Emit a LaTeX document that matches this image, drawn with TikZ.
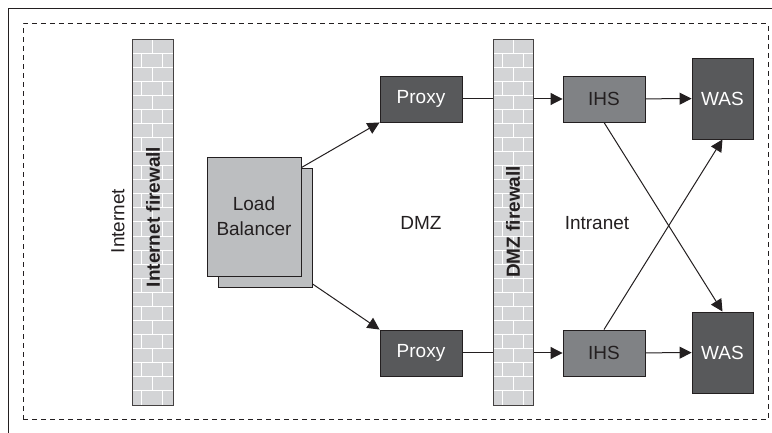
\documentclass[tikz,border=0pt]{standalone}
\usepackage{fontspec}
\setmainfont{Liberation Sans}
\usetikzlibrary{arrows.meta}
\definecolor{boxDark}{HTML}{58595B}
\definecolor{boxMid}{HTML}{808285}
\definecolor{boxLight}{HTML}{BCBEC0}
\definecolor{wallGray}{HTML}{D3D4D6}
\definecolor{lineDark}{HTML}{231F20}
\pgfdeclarelayer{bg}
\pgfsetlayers{bg,main}

\newcommand{\brickwall}[1]{%
  \foreach \r in {1,...,25}
    \draw[brick] ([yshift=\r*14.077pt]#1.south west) -- ([yshift=\r*14.077pt]#1.south east);
  \foreach \r in {0,2,...,24}
    \draw[brick] ([xshift=9pt,yshift=\r*14.077pt]#1.south west) -- ++(0,14.077)
                 ([xshift=30pt,yshift=\r*14.077pt]#1.south west) -- ++(0,14.077);
  \foreach \r in {1,3,...,25}
    \draw[brick] ([xshift=20pt,yshift=\r*14.077pt]#1.south west) -- ++(0,14.077);
}

\begin{document}
\begin{tikzpicture}[
  x=1pt,y=1pt,
  font=\fontsize{19}{25}\selectfont,
  box/.style={draw=lineDark,line width=0.9pt,inner sep=0pt},
  darkbox/.style={box,fill=boxDark,text=white,minimum width=82,minimum height=46},
  ihsbox/.style={box,fill=boxMid,text=lineDark,minimum width=82,minimum height=46},
  wasbox/.style={box,fill=boxDark,text=white,minimum width=61,minimum height=81},
  lbbox/.style={box,fill=boxLight,text=lineDark,align=center,minimum width=94,minimum height=119},
  wall/.style={fill=wallGray,inner sep=0pt,outer sep=0pt,minimum height=366},
  wallEdge/.style={draw=lineDark!85,line width=0.9pt},
  walltext/.style={rotate=90,font=\fontsize{19}{22}\selectfont\bfseries,text=lineDark},
  brick/.style={draw=white,line width=1pt},
  flow/.style={draw=lineDark,line width=1pt,-{Triangle[length=12pt,width=12pt]}}
]
  \useasboundingbox (0,0) rectangle (772,433);
  \draw[lineDark,line width=1pt] (8,0) -- (8,424) -- (772,424);
  \draw[lineDark,line width=1pt,dash pattern=on 5pt off 4pt] (23,13) rectangle (768,409);

  \node[lbbox] (lbback) at (265.5,205.5) {};
  \node[lbbox] (lb) at (254,216.5) {Load\\Balancer};

  \node[darkbox] (proxy1) at (421,334) {Proxy};
  \node[darkbox] (proxy2) at (421,80) {Proxy};
  \node[ihsbox] (ihs1) at (604,334) {IHS};
  \node[ihsbox] (ihs2) at (604,80) {IHS};
  \node[wasbox] (was1) at (722.5,334.5) {WAS};
  \node[wasbox] (was2) at (722.5,80.5) {WAS};

  \node[rotate=90,text=lineDark] (internet) at (118,212) {Internet};
  \node[text=lineDark] (dmz) at (421,210) {DMZ};
  \node[text=lineDark] (intranet) at (597,210) {Intranet};

  \begin{pgfonlayer}{bg}
    \draw[flow] (lb.east |- lbback.north) -- (proxy1.south west);
    \draw[flow] (lb.south east) -- (proxy2.north west);
    \draw[flow] (proxy1) -- (ihs1);
    \draw[flow] (proxy2) -- (ihs2);
    \draw[flow] (ihs1) -- (was1);
    \draw[flow] (ihs2) -- (was2);
    \draw[flow] (ihs1.south) -- (was2.north);
    \draw[flow] (ihs2.north) -- (was1.south);
  \end{pgfonlayer}

  % firewalls
  \node[wall,minimum width=41] (fwinet) at (152.5,211) {};
  \brickwall{fwinet}
  \draw[wallEdge] (fwinet.south west) rectangle (fwinet.north east);
  \node[walltext] (fwinetlabel) at (153,216) {Internet firewall};

  \node[wall,minimum width=40] (fwdmz) at (513,211) {};
  \brickwall{fwdmz}
  \draw[wallEdge] (fwdmz.south west) rectangle (fwdmz.north east);
  \node[walltext] (fwdmzlabel) at (513,211) {DMZ firewall};
\end{tikzpicture}
\end{document}
